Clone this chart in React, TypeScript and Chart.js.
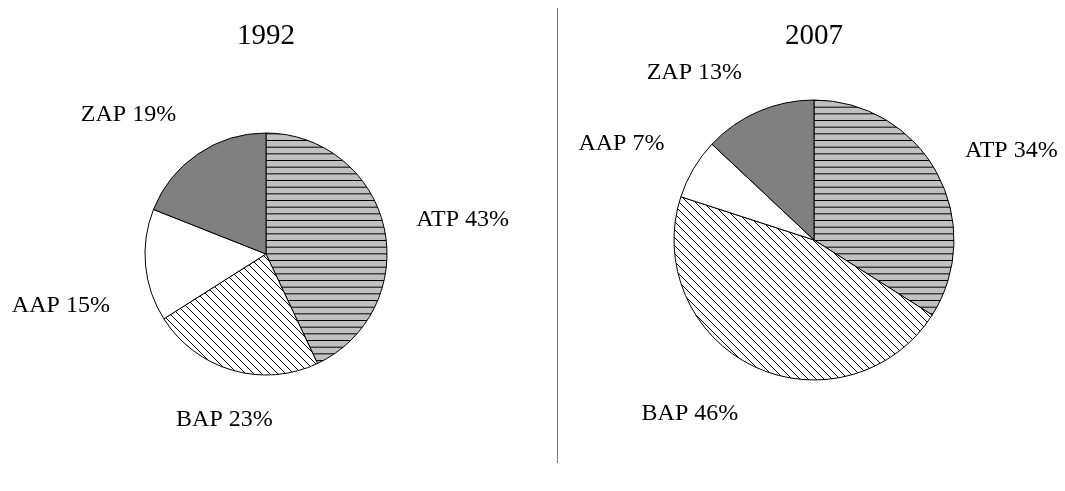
import React, { useEffect, useRef } from 'react';
import { Chart, registerables } from 'chart.js';

Chart.register(...registerables);

const categories = ['ATP', 'BAP', 'AAP', 'ZAP'];
const values1992 = [43, 23, 15, 19];
const values2007 = [34, 46, 7, 13];
const titleLeft = '1992';
const titleRight = '2007';

const FONT = 'Liberation Serif';

function makeHLinePattern(): CanvasPattern | string {
  const c = document.createElement('canvas');
  c.width = 20;
  c.height = 20;
  const ctx = c.getContext('2d');
  if (!ctx) return '#c0c0c0';
  ctx.fillStyle = '#c0c0c0';
  ctx.fillRect(0, 0, 20, 20);
  ctx.fillStyle = '#000';
  for (let k = 0; k < 3; k++) ctx.fillRect(0, (k * 20) / 3, 20, 1);
  return ctx.createPattern(c, 'repeat') as CanvasPattern;
}

function makeDiagPattern(): CanvasPattern | string {
  const s = 8;
  const c = document.createElement('canvas');
  c.width = s;
  c.height = s;
  const ctx = c.getContext('2d');
  if (!ctx) return '#fff';
  ctx.fillStyle = '#fff';
  ctx.fillRect(0, 0, s, s);
  ctx.strokeStyle = '#000';
  ctx.lineWidth = 1;
  ctx.beginPath();
  for (const k of [-s, 0, s]) {
    ctx.moveTo(k, 0);
    ctx.lineTo(k + s, s);
  }
  ctx.stroke();
  return ctx.createPattern(c, 'repeat') as CanvasPattern;
}

const labelPlugin = {
  id: 'sliceLabels',
  afterDatasetsDraw(chart: any, _args: any, opts: any) {
    const ctx = chart.ctx;
    const meta = chart.getDatasetMeta(0);
    const ds = chart.data.datasets[0];
    const size = opts.size || 24;
    const gap = opts.gap || 28;
    const nudges: number[][] = opts.nudges || [];
    ctx.save();
    ctx.font = `${size}px "${FONT}"`;
    ctx.fillStyle = '#000';
    ctx.textAlign = 'center';
    ctx.textBaseline = 'alphabetic';
    meta.data.forEach((arc: any, i: number) => {
      const p = arc.getProps(['x', 'y', 'startAngle', 'endAngle', 'outerRadius'], true);
      const mid = (p.startAngle + p.endAngle) / 2;
      const text = `${chart.data.labels[i]} ${ds.data[i]}%`;
      const w = ctx.measureText(text).width;
      const h = 20;
      const ux = Math.cos(mid);
      const uy = Math.sin(mid);
      const n = nudges[i] || [0, 0];
      const cx = p.x + (p.outerRadius + gap) * ux + (w / 2) * ux + n[0];
      const cy = p.y + (p.outerRadius + gap) * uy + (h / 2) * uy + n[1];
      ctx.fillText(text, cx, cy + size * 0.33);
    });
    ctx.restore();
  },
};

function makeChart(
  canvas: HTMLCanvasElement,
  title: string,
  values: number[],
  radius: number,
  padding: any,
  titleBottom: number,
  nudges: number[][]
) {
  const colors = [makeHLinePattern(), makeDiagPattern(), '#ffffff', '#808080'];
  return new Chart(canvas, {
    type: 'pie',
    data: {
      labels: categories,
      datasets: [
        {
          data: values,
          backgroundColor: colors as any,
          borderColor: '#000',
          borderWidth: 1,
          radius: radius,
        } as any,
      ],
    },
    options: {
      responsive: false,
      animation: false,
      devicePixelRatio: 1,
      layout: { padding },
      plugins: {
        legend: { display: false },
        tooltip: { enabled: false },
        title: {
          display: true,
          text: title,
          color: '#000',
          font: { family: FONT, size: 29, weight: 'normal', lineHeight: 1.2 },
          padding: { top: 19, bottom: titleBottom },
        },
        sliceLabels: { size: 24, gap: 28, nudges },
      } as any,
    },
    plugins: [labelPlugin],
  });
}

export default function App() {
  const leftRef = useRef<HTMLCanvasElement>(null);
  const rightRef = useRef<HTMLCanvasElement>(null);

  useEffect(() => {
    if (!leftRef.current || !rightRef.current) return;
    const a = makeChart(
      leftRef.current,
      titleLeft,
      values1992,
      121,
      { top: 0, left: 145, right: 168, bottom: 116 },
      79.2,
      [[6, -1], [13.5, 11.4], [-8, 35], [-27, -9]]
    );
    const b = makeChart(
      rightRef.current,
      titleRight,
      values2007,
      140,
      { top: 0, left: 117, right: 111, bottom: 111 },
      46.2,
      [[9.5, -5], [-32, 11], [-11, -7], [-34, -6]]
    );
    return () => {
      a.destroy();
      b.destroy();
    };
  }, []);

  return (
    <div style={{ position: 'absolute', left: 0, top: 0, width: 1065, height: 491, background: '#fff', overflow: 'hidden' }}>
      <canvas ref={leftRef} width={555} height={491} style={{ position: 'absolute', left: 0, top: 0 }} />
      <div style={{ position: 'absolute', left: 557, top: 8, width: 1, height: 455, background: '#7a7a7a' }} />
      <canvas ref={rightRef} width={508} height={491} style={{ position: 'absolute', left: 557, top: 0 }} />
    </div>
  );
}
